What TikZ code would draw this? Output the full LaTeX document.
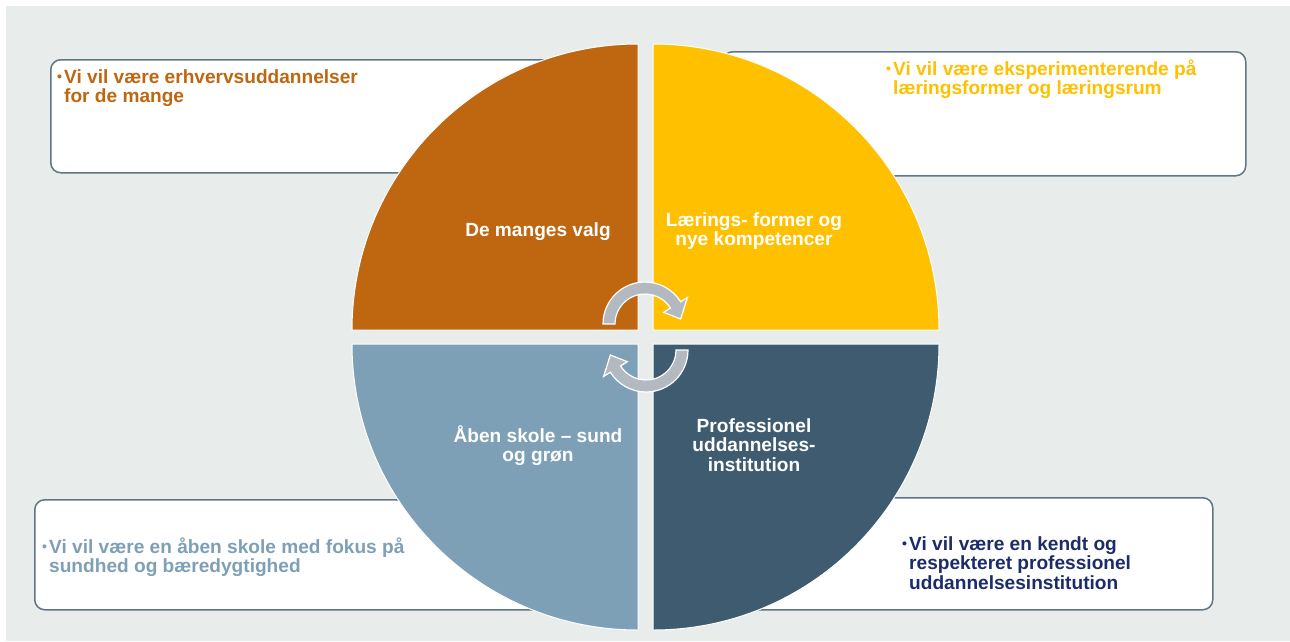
\documentclass[tikz,border=0pt]{standalone}
\usepackage{fontspec}
\setmainfont{Liberation Sans}
\usetikzlibrary{calc}
\definecolor{bggray}{HTML}{E8ECEB}
\definecolor{qorange}{HTML}{BE6610}
\definecolor{qyellow}{HTML}{FFC000}
\definecolor{qlight}{HTML}{7EA0B6}
\definecolor{qdark}{HTML}{3E5B6F}
\definecolor{boxline}{HTML}{5F7685}
\definecolor{navytext}{HTML}{1C2C68}
\definecolor{arrowgray}{HTML}{B3B9C0}
\newcommand{\bul}{\makebox[7pt][l]{\raisebox{1.5pt}{\fontsize{14}{14}\selectfont •}}}
\begin{document}
\begin{tikzpicture}[x=1pt,y=-1pt,
  box/.style={draw=boxline, line width=1.5pt, fill=white, rounded corners=10pt, inner sep=0pt, anchor=north west},
  btext/.style={anchor=base west, align=left, inner sep=0pt, font=\fontsize{19.1}{19.5}\selectfont\bfseries},
  quad/.style={draw=white, line width=1pt},
  qlabel/.style={anchor=base, align=center, inner sep=0pt, text=white, font=\fontsize{19.1}{19.5}\selectfont\bfseries},
  carrow/.style={fill=arrowgray, draw=white, line width=1.2pt, line join=miter}
]
\useasboundingbox (0,0) rectangle (1290,641);
\fill[white] (0,0) rectangle (1290,641);
\fill[bggray] (6,6) rectangle (1290,641);

% boxes behind the circle
\node[box, minimum width=523pt, minimum height=113pt] (boxTL) at (50,59) {};
\node[box, minimum width=523pt, minimum height=124pt] (boxTR) at (722,51) {};
\node[box, minimum width=523pt, minimum height=110pt] (boxBL) at (34,499) {};
\node[box, minimum width=523pt, minimum height=112pt] (boxBR) at (689,497) {};

% box texts (anchor = baseline of last line)
\node[btext, text=qorange] (tTL) at (57,102.5) {\bul Vi vil være erhvervsuddannelser\\\hphantom{\bul}for de mange};
\node[btext, text=qyellow] (tTR) at (886,94.5) {\bul Vi vil være eksperimenterende på\\\hphantom{\bul}læringsformer og læringsrum};
\node[btext, text=qlight] (tBL) at (42,572.5) {\bul Vi vil være en åben skole med fokus på\\\hphantom{\bul}sundhed og bæredygtighed};
\node[btext, text=navytext] (tBR) at (902,589) {\bul Vi vil være en kendt og\\\hphantom{\bul}respekteret professionel\\\hphantom{\bul}uddannelsesinstitution};

% quadrants
\path[quad, fill=qorange] (638,330) -- (352,330) arc[start angle=-180, end angle=-90, radius=286] -- cycle;
\path[quad, fill=qyellow] (653,330) -- (653,44) arc[start angle=-90, end angle=0, radius=286] -- cycle;
\path[quad, fill=qdark] (653,344) -- (939,344) arc[start angle=0, end angle=90, radius=286] -- cycle;
\path[quad, fill=qlight] (638,344) -- (638,630) arc[start angle=90, end angle=180, radius=286] -- cycle;

% quadrant labels (anchor = baseline of last line)
\node[qlabel] (q1) at (538,236) {De manges valg};
\node[qlabel] (q2) at (754,245.5) {Lærings- former og\\nye kompetencer};
\node[qlabel] (q3) at (538,461.5) {Åben skole – sund\\og grøn};
\node[qlabel] (q4) at (754,471) {Professionel\\uddannelses-\\institution};

% circular arrows
\begin{scope}[shift={(645,324)}]
  \path[carrow] (-180:42) arc[start angle=-180, end angle=-32, radius=42] -- (-32:50) -- (-8:36) -- (-32:22) -- (-32:30) arc[start angle=-32, end angle=-180, radius=30] -- cycle;
\end{scope}
\begin{scope}[shift={(646,350)}]
  \path[carrow] (0:42) arc[start angle=0, end angle=148, radius=42] -- (148:50) -- (172:36) -- (148:22) -- (148:30) arc[start angle=148, end angle=0, radius=30] -- cycle;
\end{scope}
\end{tikzpicture}
\end{document}
